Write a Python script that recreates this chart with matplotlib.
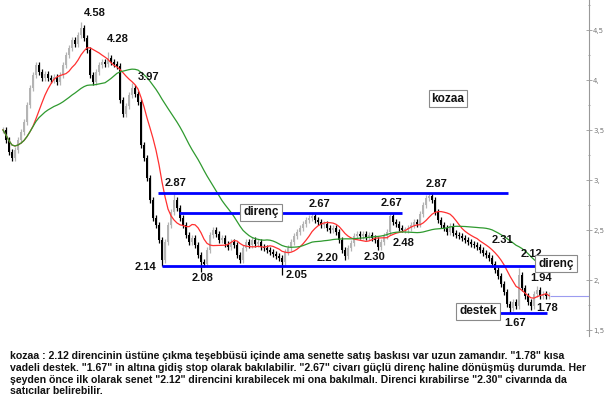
"""KOZAA Kursgrafik mit Widerstand/Unterstuetzung und gleitenden Durchschnitten."""

import matplotlib.pyplot as plt
import numpy as np
import pandas as pd

# Schlusskurse, ein Wert pro Tag (links -> rechts)
closes = [
    3.50, 3.40, 3.28, 3.22, 3.30, 3.40, 3.48, 3.58, 3.75, 3.92,
    4.05, 4.15, 4.08, 4.02, 4.06, 4.02, 4.00, 4.03, 3.98, 4.05,
    4.15, 4.25, 4.32, 4.40, 4.36, 4.45, 4.52, 4.42, 4.30, 4.05,
    3.98, 4.08, 4.15, 4.18, 4.16, 4.22, 4.18, 4.16, 4.14, 3.80,
    3.66, 3.74, 3.85, 3.92, 3.86, 3.78, 3.35, 3.22, 3.02, 2.80,
    2.62, 2.55, 2.40, 2.20, 2.38, 2.55, 2.68, 2.80, 2.72, 2.62,
    2.55, 2.45, 2.38, 2.42, 2.35, 2.25, 2.18, 2.16, 2.30, 2.45,
    2.50, 2.46, 2.40, 2.42, 2.36, 2.33, 2.38, 2.35, 2.25, 2.20,
    2.32, 2.38, 2.35, 2.40, 2.36, 2.38, 2.33, 2.32, 2.30, 2.28,
    2.26, 2.24, 2.22, 2.18, 2.28, 2.32, 2.38, 2.44, 2.48, 2.52,
    2.56, 2.60, 2.62, 2.64, 2.60, 2.58, 2.55, 2.56, 2.52, 2.50,
    2.52, 2.48, 2.40, 2.30, 2.24, 2.32, 2.37, 2.44, 2.46, 2.44,
    2.46, 2.43, 2.45, 2.42, 2.40, 2.33, 2.38, 2.44, 2.48, 2.64,
    2.58, 2.56, 2.52, 2.50, 2.50, 2.52, 2.55, 2.58, 2.56, 2.66,
    2.75, 2.82, 2.84, 2.80, 2.68, 2.60, 2.55, 2.52, 2.48, 2.54,
    2.47, 2.45, 2.44, 2.42, 2.40, 2.38, 2.36, 2.35, 2.33, 2.30,
    2.27, 2.25, 2.22, 2.16, 2.10, 2.04, 1.96, 1.88, 1.76, 1.72,
    1.78, 1.74, 2.05, 1.92, 1.84, 1.78, 1.74, 1.86, 1.90, 1.84,
    1.86, 1.84, 1.85,
]

# markierte Extremwerte (Bar-Index -> Kurs)
peak_highs = {26: 4.58, 35: 4.28, 43: 3.97, 57: 2.87, 103: 2.67,
              129: 2.67, 142: 2.87, 172: 2.12, 178: 1.94}
trough_lows = {53: 2.14, 66: 2.08, 93: 2.05, 114: 2.20, 125: 2.30,
               133: 2.48, 169: 1.67, 176: 1.70}

# Niveaulinien: Kurs, erster Bar, letzter Bar
level_prices = [2.87, 2.67, 2.14, 1.67]
level_start = [51.7, 58.7, 53.0, 164.3]
level_end = [168.3, 133.0, 178.0, 181.3]
last_price = 1.84

# Kurs-Beschriftungen: Text, Bar, Kurs, Versatz in Pixel (x, y)
price_labels = [
    ("4.58", 26, 4.58, 14, 9), ("4.28", 35, 4.28, 10, 13),
    ("3.97", 43, 3.97, 17, 6), ("2.87", 57, 2.87, 2, 10),
    ("2.14", 53, 2.14, -17, -1), ("2.08", 66, 2.08, 2, -6),
    ("2.05", 93, 2.05, 15, 0), ("2.20", 114, 2.20, -17, 2),
    ("2.67", 103, 2.67, 7, 9), ("2.30", 125, 2.30, -4, -7),
    ("2.67", 129, 2.67, 1, 10), ("2.48", 133, 2.48, 1, -11),
    ("2.87", 142, 2.87, 7, 9), ("2.31", 166, 2.31, 1, 9),
    ("2.12", 172, 2.12, 12, 14), ("1.94", 178, 1.94, 4, 8),
    ("1.78", 181, 1.78, 1, -6), ("1.67", 169, 1.67, 5, -10),
]

# umrandete Notizen: Text, Bar, Kurs, Schriftgroesse
box_labels = [
    ("direnç", 86.0, 2.675, 8.5), ("direnç", 184.3, 2.165, 8.5),
    ("destek", 158.3, 1.685, 8.5), ("kozaa", 148.3, 3.815, 8.5),
]

y_ticks = [1.5, 2.0, 2.5, 3.0, 3.5, 4.0, 4.5]
y_tick_labels = ["1,5", "2,", "2,5", "3,", "3,5", "4,", "4,5"]

comment = (
    'kozaa : 2.12 direncinin üstüne çıkma teşebbüsü içinde ama senette satış baskısı var uzun zamandır. "1.78" kısa\n'
    'vadeli destek. "1.67" in altına gidiş stop olarak bakılabilir. "2.67" civarı güçlü direnç haline dönüşmüş durumda. Her\n'
    'şeyden önce ilk olarak senet "2.12" direncini kırabilecek mi ona bakılmalı. Direnci kırabilirse "2.30" civarında da\n'
    'satıcılar belirebilir.'
)

FONT = "Liberation Sans"


def build_ohlc(closes):
    """Eroeffnung = Vortagesschluss, Dochte leicht ueber/unter dem Koerper."""
    c = pd.Series(closes, dtype=float)
    o = c.shift(1).fillna(c.iloc[0])
    hi = np.maximum(o, c) + 0.03
    lo = np.minimum(o, c) - 0.03
    for i, v in peak_highs.items():
        hi[i] = v
    for i, v in trough_lows.items():
        lo[i] = v
    return pd.DataFrame({"open": o, "high": hi, "low": lo, "close": c})


df = build_ohlc(closes)
ma_fast = df["close"].rolling(10, min_periods=1).mean()
ma_slow = df["close"].rolling(35, min_periods=1).mean()
idx = np.arange(len(df))

fig = plt.figure(figsize=(6.09, 4.07), dpi=100)
ax = fig.add_axes([0.0, 71 / 407, 589 / 609, 336 / 407])

down = df["close"] < df["open"]
colors = np.where(down, "black", "#b4b4b4")
ax.vlines(idx, df["low"], df["high"], colors=colors, linewidth=0.9, zorder=2)
body_low = np.minimum(df["open"], df["close"])
body_h = np.maximum(np.abs(df["close"] - df["open"]), 0.012)
ax.bar(idx, body_h, bottom=body_low, width=0.8, color=colors, linewidth=0, zorder=2)

ax.plot(idx, ma_fast, color="#ff3030", linewidth=0.9, zorder=3)
ax.plot(idx, ma_slow, color="#2f9a2f", linewidth=0.9, zorder=3)

for p, s, e in zip(level_prices, level_start, level_end):
    ax.hlines(p, s, e, colors="#0000ff", linewidth=2.0, zorder=4)
ax.hlines(last_price, len(df) - 0.7, 200, colors="#9c9cf0", linewidth=0.8, zorder=4)

for txt, i, v, dx, dy in price_labels:
    ax.annotate(txt, (i, v), xytext=(dx * 0.72, dy * 0.72), textcoords="offset points",
                ha="center", va="center", fontsize=8, fontweight="bold",
                family=FONT, color="#111111", zorder=6)

for txt, i, v, fs in box_labels:
    ax.text(i, v, txt, ha="center", va="center", fontsize=fs, fontweight="bold",
            family=FONT, color="#111111", zorder=7,
            bbox=dict(boxstyle="square,pad=0.25", facecolor="white",
                      edgecolor="#8a8a8a", linewidth=0.8))

ax.set_xlim(-1, 195.3)
ax.set_ylim(1.44, 4.80)
for side in ["top", "left", "bottom"]:
    ax.spines[side].set_visible(False)
ax.spines["right"].set_color("#999999")
ax.spines["right"].set_linewidth(0.8)
ax.set_xticks([])
ax.yaxis.tick_right()
ax.set_yticks(y_ticks)
ax.set_yticklabels(y_tick_labels)
ax.set_yticks(np.arange(1.5, 4.8, 0.25), minor=True)
ax.tick_params(axis="y", which="major", direction="inout", length=4, width=0.6,
               colors="#999999", labelsize=5, labelcolor="#777777", pad=1)
ax.tick_params(axis="y", which="minor", direction="inout", length=2, width=0.6,
               colors="#999999")

fig.text(10 / 609, 1 - 351 / 407, comment, ha="left", va="top", fontsize=7.6,
         fontweight="bold", family=FONT, color="#111111", linespacing=1.22)

plt.savefig("out.png", dpi=100)
plt.close(fig)
